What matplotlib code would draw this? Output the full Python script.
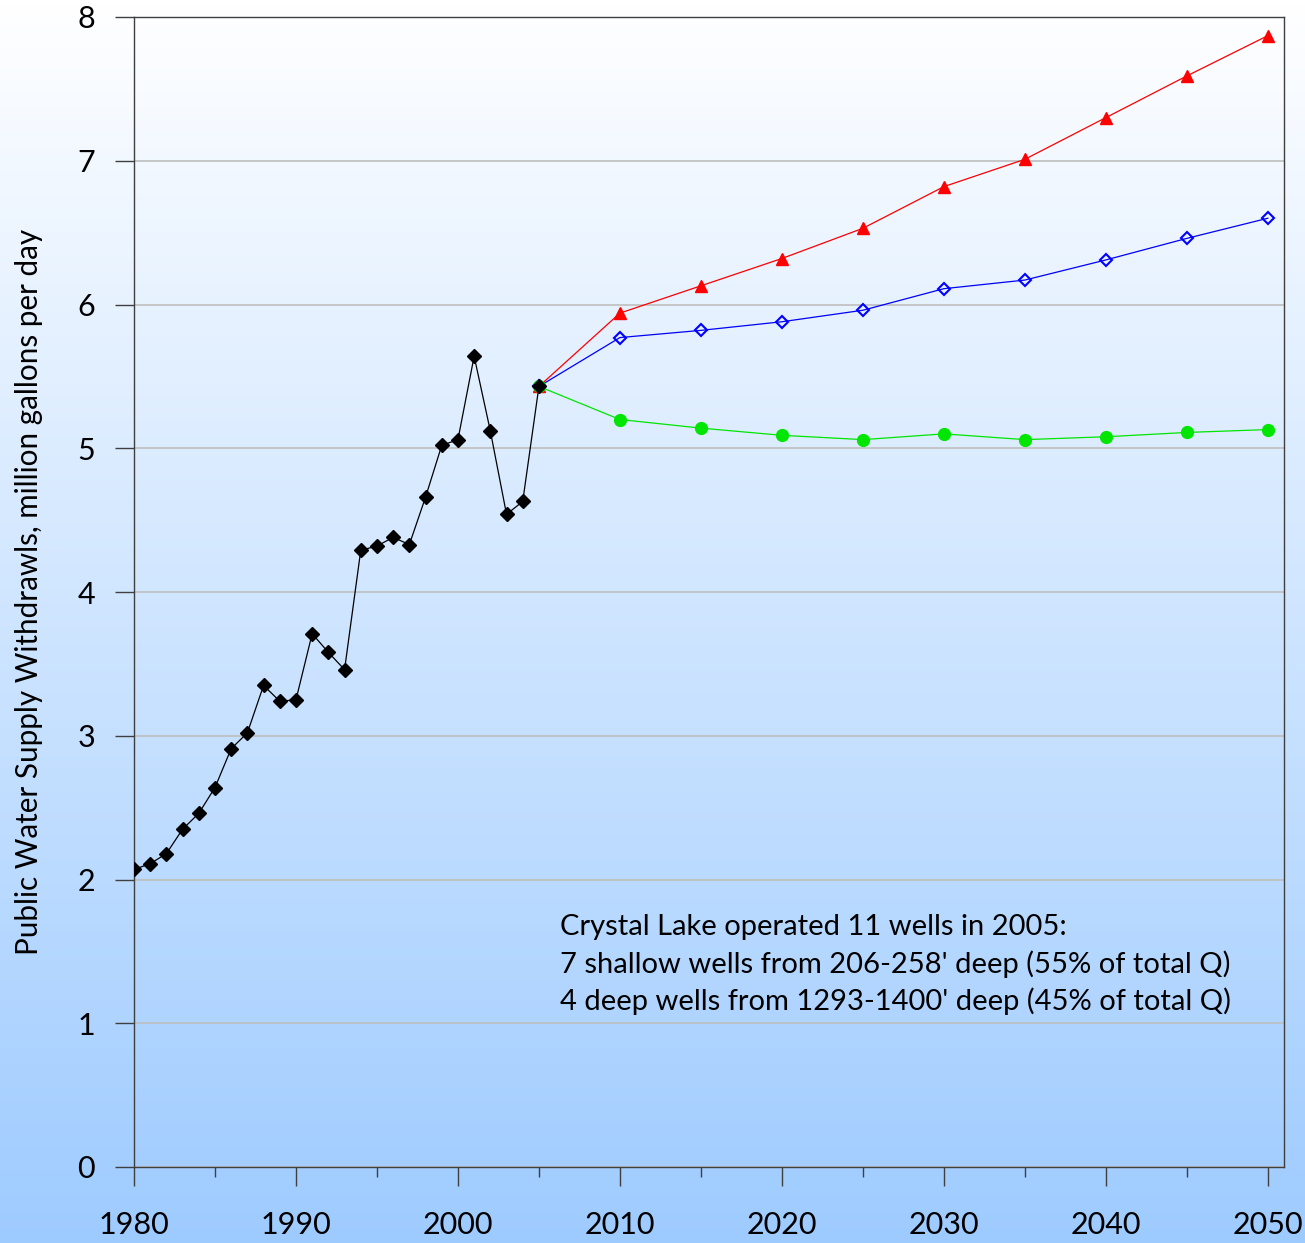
import numpy as np
import matplotlib
matplotlib.use("Agg")
import matplotlib.pyplot as plt
from matplotlib.colors import LinearSegmentedColormap
from matplotlib.ticker import MultipleLocator

plt.rcParams['font.family'] = ['Lato', 'DejaVu Sans']

# Historical withdrawals
hist_years = list(range(1980, 2006))
hist_values = [2.07, 2.11, 2.18, 2.35, 2.46, 2.64, 2.91, 3.02, 3.35, 3.24,
               3.25, 3.71, 3.58, 3.46, 4.29, 4.32, 4.38, 4.33, 4.66, 5.02,
               5.06, 5.64, 5.12, 4.54, 4.63, 5.43]

# Projections
proj_years = [2005, 2010, 2015, 2020, 2025, 2030, 2035, 2040, 2045, 2050]
high_values = [5.43, 5.94, 6.13, 6.32, 6.53, 6.82, 7.01, 7.30, 7.59, 7.87]
mid_values = [5.43, 5.77, 5.82, 5.88, 5.96, 6.11, 6.17, 6.31, 6.46, 6.60]
low_values = [5.43, 5.20, 5.14, 5.09, 5.06, 5.10, 5.06, 5.08, 5.11, 5.13]

xticks = [1980, 1990, 2000, 2010, 2020, 2030, 2040, 2050]
ylabel = "Public Water Supply Withdrawls, million gallons per day"
note_lines = ["Crystal Lake operated 11 wells in 2005:",
              "7 shallow wells from 206-258' deep (55% of total Q)",
              "4 deep wells from 1293-1400' deep (45% of total Q)"]

W, H = 1305, 1243
fig = plt.figure(figsize=(W / 100, H / 100), dpi=100)

# background gradient across whole figure
bg = fig.add_axes([0, 0, 1, 1], zorder=-10)
cmap = LinearSegmentedColormap.from_list("bg", ["#FFFFFF", "#9ECBFF"])
grad = np.linspace(0, 1, 256).reshape(-1, 1)
bg.imshow(grad, aspect='auto', cmap=cmap, extent=[0, 1, 0, 1], origin='upper')
bg.set_axis_off()

ax = fig.add_axes([134 / W, 1 - 1167 / H, (1284 - 134) / W, (1167 - 17) / H])
ax.set_facecolor('none')

ax.plot(proj_years, high_values, color='#FF0000', lw=0.9, marker='^', ms=8,
        mfc='#FF0000', mec='#FF0000', zorder=3)
ax.plot(proj_years, mid_values, color='#0000FF', lw=0.9, marker='D', ms=6.3,
        mfc='none', mec='#0000FF', mew=1.5, zorder=3)
ax.plot(proj_years, low_values, color='#00E600', lw=0.9, marker='o', ms=8.5,
        mfc='#00E600', mec='#00E600', zorder=3)
ax.plot(hist_years, hist_values, color='black', lw=0.9, marker='D', ms=6.8,
        mfc='black', mec='black', zorder=4)

ax.set_xlim(1980, 2051)
ax.set_ylim(0, 8)
ax.set_xticks(xticks)
ax.xaxis.set_minor_locator(MultipleLocator(5))
ax.yaxis.set_major_locator(MultipleLocator(1))
ax.grid(axis='y', color='#BEBEBE', lw=1.2)
ax.set_axisbelow(True)

for s in ax.spines.values():
    s.set_color('#3F3F3F')
    s.set_linewidth(1.0)

ax.tick_params(axis='x', which='major', direction='out', length=14, width=1,
               color='#3F3F3F', labelsize=22, pad=18)
ax.tick_params(axis='x', which='minor', direction='out', length=7, width=1,
               color='#3F3F3F')
ax.tick_params(axis='y', which='major', direction='out', length=14, width=1,
               color='#3F3F3F', labelsize=22, pad=14)

ax.set_ylabel(ylabel, fontsize=21.3, labelpad=25)

for i, line in enumerate(note_lines):
    ax.text((560 - 134) / 1150, (1167 - (935 + 37.5 * i)) / 1150, line,
            transform=ax.transAxes, fontsize=21, ha='left', va='baseline')

fig.savefig("out.png", dpi=100)
